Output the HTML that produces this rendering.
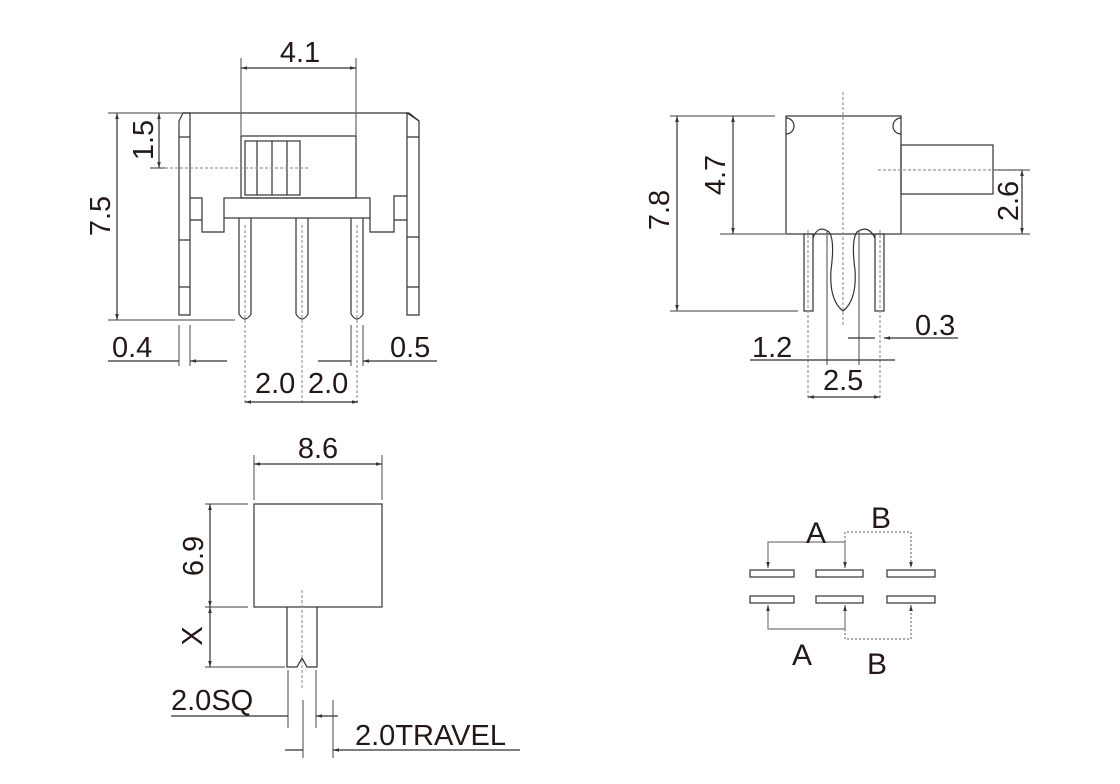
<!DOCTYPE html>
<html><head><meta charset="utf-8"><style>
html,body{margin:0;padding:0;background:#fff;}
svg{display:block;}
text{font-family:"Liberation Sans",sans-serif;font-size:29px;fill:#231815;}
</style></head><body>
<svg width="1120" height="784" viewBox="0 0 1120 784" xmlns="http://www.w3.org/2000/svg">
<defs>
<marker id="a" viewBox="0 0 10 10" refX="10" refY="5" markerWidth="5" markerHeight="5" orient="auto-start-reverse"><path d="M0,2 L10,5 L0,8z" fill="#333"/></marker>
</defs>
<g fill="none" stroke="#333" stroke-width="1.2">
<!-- VIEW 1 -->
<path d="M183,113 L409,113 L419,121"/>
<path d="M179,121 L183,113 L190,113 L190,315 L179,315 Z"/>
<path d="M179,137 H190 M179,240 H190 M179,287 H190"/>
<path d="M407,113 L419,121 L419,315 L407,315 Z"/>
<path d="M407,137 H419 M407,237 H419 M407,287 H419"/>
<path d="M190,198 H202 V220 H190 M202,220 V232 H224 V218"/>
<path d="M407,196 H394 V220 H407 M394,220 V232 H370 V218"/>
<rect x="224" y="198" width="146" height="20"/>
<rect x="241" y="136" width="115" height="62"/>
<rect x="245" y="141" width="55" height="54"/>
<path d="M257,141 V195 M272,141 V195 M287,141 V195"/>
<path d="M239,218 V314 Q245,324 251,314 V218 M296,218 V314 Q302,324 308,314 V218 M351,218 V314 Q357,324 363,314 V218"/>
<path d="M150,168 H310" stroke-dasharray="3,2" stroke="#999"/>
<path d="M245,225 V405 M302,225 V405 M357,225 V405" stroke-dasharray="3,2" stroke="#999"/>
<!-- dims -->
<path d="M241,58 V136 M356,58 V136" stroke="#666"/>
<path d="M241,68 H356" marker-start="url(#a)" marker-end="url(#a)"/>
<path d="M108,113 H183 M108,320 H235 M150,168 H165" stroke="#666"/>
<path d="M117,113 V320" marker-start="url(#a)" marker-end="url(#a)"/>
<path d="M159,113 V168" marker-start="url(#a)" marker-end="url(#a)"/>
<path d="M179,325 V366 M190,325 V366 M351,325 V366 M363,325 V366" stroke="#666"/>
<path d="M108,361 H179 M227,361 H190" marker-end="url(#a)"/>
<path d="M318,361 H351 M437,361 H363" marker-end="url(#a)"/>
<path d="M245,402 H358" marker-start="url(#a)" marker-end="url(#a)"/>
<!-- VIEW 2 -->
<rect x="786" y="116" width="115" height="118"/>
<path d="M786,118 A8,8 0 0 1 786,134 M901,118 A8,8 0 0 0 901,134"/>
<rect x="901" y="145" width="92" height="49"/>
<rect x="804" y="234" width="9" height="77"/>
<rect x="875" y="234" width="9" height="77"/>
<path d="M813,238 Q818,224 829,232 Q835,240 831,270 Q829,300 843,311 Q857,300 855,270 Q851,240 857,232 Q868,224 875,238"/>
<path d="M878,170 H1022 M843,92 V327 M808,230 V400 M880,230 V400" stroke="#999" stroke-dasharray="3,2"/>
<path d="M670,116 H775 M670,311 H798 M720,234 H785 M901,234 H1030 M993,170 H1030" stroke="#666"/>
<path d="M677,116 V311" marker-start="url(#a)" marker-end="url(#a)"/>
<path d="M733,116 V234" marker-start="url(#a)" marker-end="url(#a)"/>
<path d="M1022,170 V234" marker-start="url(#a)" marker-end="url(#a)"/>
<path d="M827,230 V365 M859,230 V365" stroke="#666"/>
<path d="M750,360 H895"/>
<path d="M848,338 H875 M958,338 H884" marker-end="url(#a)"/>
<path d="M808,397 H880" marker-start="url(#a)" marker-end="url(#a)"/>
<!-- VIEW 3 -->
<rect x="254" y="504" width="128" height="103"/>
<path d="M287,607 V667 H297 L302,658 L307,667 H317 V607"/>
<path d="M302,590 V688" stroke="#999" stroke-dasharray="3,2"/>
<path d="M254,455 V500 M382,455 V500" stroke="#666"/>
<path d="M254,464 H382" marker-start="url(#a)" marker-end="url(#a)"/>
<path d="M205,504 H248 M205,607 H248 M205,667 H285" stroke="#666"/>
<path d="M210,504 V607" marker-start="url(#a)" marker-end="url(#a)"/>
<path d="M210,607 V667" marker-start="url(#a)" marker-end="url(#a)"/>
<path d="M288,670 V728 M316,670 V728 M303,700 V758 M333,700 V758" stroke="#666"/>
<path d="M171,716 H288 M338,716 H316" marker-end="url(#a)"/>
<path d="M285,750 H303 M520,750 H333" marker-end="url(#a)"/>
<!-- VIEW 4 -->
<rect x="750" y="570" width="44" height="7"/>
<rect x="816" y="570" width="47" height="7"/>
<rect x="887" y="570" width="48" height="7"/>
<rect x="750" y="596" width="44" height="7"/>
<rect x="816" y="596" width="47" height="7"/>
<rect x="887" y="596" width="48" height="7"/>
<path d="M768,568 V542 H845 V568" stroke="#777" marker-start="url(#a)" marker-end="url(#a)"/>
<path d="M768,605 V629 H845 V605" stroke="#777" marker-start="url(#a)" marker-end="url(#a)"/>
<path d="M845,542 V532 H911 V568" stroke="#777" stroke-dasharray="2,2" marker-end="url(#a)"/>
<path d="M845,629 V639 H911 V605" stroke="#777" stroke-dasharray="2,2" marker-end="url(#a)"/>
</g>
<!-- labels -->
<text x="300" y="62" text-anchor="middle">4.1</text>
<text transform="translate(153,140) rotate(-90)" text-anchor="middle">1.5</text>
<text transform="translate(110,216) rotate(-90)" text-anchor="middle">7.5</text>
<text x="112" y="357">0.4</text>
<text x="390" y="357">0.5</text>
<text x="255" y="393">2.0</text>
<text x="308" y="393">2.0</text>
<text transform="translate(669,210) rotate(-90)" text-anchor="middle">7.8</text>
<text transform="translate(725,175) rotate(-90)" text-anchor="middle">4.7</text>
<text transform="translate(1018,201) rotate(-90)" text-anchor="middle">2.6</text>
<text x="915" y="335">0.3</text>
<text x="752" y="357">1.2</text>
<text x="823" y="390">2.5</text>
<text x="318" y="458" text-anchor="middle">8.6</text>
<text transform="translate(203,556) rotate(-90)" text-anchor="middle">6.9</text>
<text transform="translate(202,636) rotate(-90)" text-anchor="middle">X</text>
<text x="171" y="710">2.0SQ</text>
<text x="355" y="745">2.0TRAVEL</text>
<text x="816" y="543" text-anchor="middle" style="font-size:30px">A</text>
<text x="881" y="528" text-anchor="middle" style="font-size:30px">B</text>
<text x="802" y="665" text-anchor="middle" style="font-size:30px">A</text>
<text x="877" y="674" text-anchor="middle" style="font-size:30px">B</text>
</svg>
</body></html>
